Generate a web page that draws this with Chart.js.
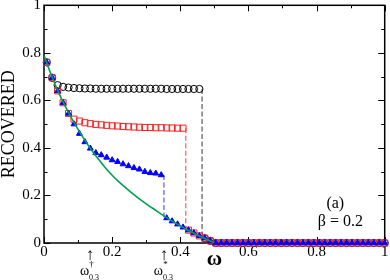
<!DOCTYPE html>
<html><head><meta charset="utf-8">
<script src="https://cdn.jsdelivr.net/npm/chart.js@4.4.1/dist/chart.umd.min.js"></script>
<style>html,body{margin:0;padding:0;background:#fff}#wrap{width:390px;height:280px}</style>
</head><body><div id="wrap"><canvas id="c" width="390" height="280"></canvas></div>
<script>
// ---- data ----
const omega = [0.008, 0.024, 0.040, 0.056, 0.072, 0.088, 0.104, 0.120, 0.136, 0.152,
  0.168, 0.184, 0.200, 0.216, 0.232, 0.248, 0.264, 0.280, 0.296, 0.312,
  0.328, 0.344, 0.360, 0.376, 0.392, 0.408, 0.424, 0.440, 0.456, 0.472,
  0.488, 0.504, 0.520, 0.536, 0.552, 0.568, 0.584, 0.600, 0.616, 0.632,
  0.648, 0.664, 0.680, 0.696, 0.712, 0.728, 0.744, 0.760, 0.776, 0.792,
  0.808, 0.824, 0.840, 0.856, 0.872, 0.888, 0.904, 0.920, 0.936, 0.952,
  0.968, 0.984, 1.000];
const circleVals = [0.760, 0.695, 0.664, 0.657, 0.654, 0.652, 0.651, 0.650, 0.650, 0.649,
  0.649, 0.649, 0.649, 0.649, 0.649, 0.649, 0.649, 0.649, 0.649, 0.649,
  0.649, 0.649, 0.648, 0.648, 0.648, 0.648, 0.648, 0.648, 0.648, 0.020,
  0.009, 0, 0, 0, 0, 0, 0, 0, 0, 0,
  0, 0, 0, 0, 0, 0, 0, 0, 0, 0,
  0, 0, 0, 0, 0, 0, 0, 0, 0, 0,
  0, 0, 0];
const squareVals = [0.760, 0.695, 0.640, 0.590, 0.545, 0.521, 0.513, 0.506, 0.502, 0.499,
  0.497, 0.495, 0.493, 0.492, 0.490, 0.489, 0.488, 0.487, 0.486, 0.486,
  0.485, 0.485, 0.484, 0.484, 0.483, 0.483, 0.054, 0.042, 0.030, 0.020,
  0.009, 0, 0, 0, 0, 0, 0, 0, 0, 0,
  0, 0, 0, 0, 0, 0, 0, 0, 0, 0,
  0, 0, 0, 0, 0, 0, 0, 0, 0, 0,
  0, 0, 0];
const triangleVals = [0.760, 0.695, 0.640, 0.590, 0.545, 0.500, 0.460, 0.425, 0.398, 0.379,
  0.370, 0.360, 0.349, 0.342, 0.332, 0.324, 0.316, 0.310, 0.300, 0.295,
  0.293, 0.286, 0.105, 0.092, 0.079, 0.066, 0.054, 0.042, 0.030, 0.020,
  0.009, 0, 0, 0, 0, 0, 0, 0, 0, 0,
  0, 0, 0, 0, 0, 0, 0, 0, 0, 0,
  0, 0, 0, 0, 0, 0, 0, 0, 0, 0,
  0, 0, 0];
const curveOmega = [0, 0.02, 0.04, 0.06, 0.08, 0.10, 0.12, 0.14, 0.16, 0.18, 0.20, 0.22, 0.24,
  0.26, 0.28, 0.30, 0.32, 0.34, 0.36, 0.38, 0.40, 0.42, 0.44, 0.46, 0.48, 0.50];
const curveVals = [0.790, 0.712, 0.642, 0.582, 0.527, 0.478, 0.432, 0.390, 0.352, 0.317, 0.285, 0.257, 0.232,
  0.208, 0.186, 0.165, 0.145, 0.126, 0.107, 0.089, 0.072, 0.056, 0.041, 0.027, 0.013, 0.002];
const jumpOmega = [0.464, 0.416, 0.352];
const jumpTop = [0.648, 0.483, 0.286];
const jumpBottom = [0.030, 0.060, 0.108];
const xTickVals = [0, 0.2, 0.4, 0.6, 0.8, 1];
const xMinorVals = [0.1, 0.3, 0.5, 0.7, 0.9];
const yTickVals = [0, 0.2, 0.4, 0.6, 0.8, 1];
const yMinorVals = [0.1, 0.3, 0.5, 0.7, 0.9];
const arrowOmega = [0.135, 0.352];
const arrowMarks = ['\u2020', '*'];

// ---- chart ----
const pts = (xs, ys) => xs.map((v, i) => ({x: v, y: ys[i]}));
const jumpColors = ['#7a7a7a', '#ff7a7a', '#7a7aff'];
const SERIF = "'Liberation Serif', 'Times New Roman', serif";
const fmt = v => String(Math.round(v * 10) / 10);

const datasets = [
  {data: pts(curveOmega, curveVals), showLine: true, borderColor: 'rgb(0,160,80)', borderWidth: 1.6,
   pointRadius: 0, cubicInterpolationMode: 'monotone', order: 0},
  {data: pts(omega, triangleVals), showLine: false, pointStyle: 'triangle', pointRadius: 3.4,
   backgroundColor: '#0000ff', borderColor: '#0000ff', borderWidth: 1, clip: false, order: 1},
  {data: pts(omega, squareVals), showLine: false, pointStyle: 'rect', pointRadius: 4.3,
   backgroundColor: 'rgba(0,0,0,0)', borderColor: '#ff2020', borderWidth: 1, clip: false, order: 2},
  {data: pts(omega, circleVals), showLine: false, pointStyle: 'circle', pointRadius: 3.6,
   backgroundColor: 'rgba(0,0,0,0)', borderColor: '#000', borderWidth: 1, clip: false, order: 3}
];
jumpOmega.forEach((w, i) => datasets.push({
  data: [{x: w, y: jumpTop[i]}, {x: w, y: jumpBottom[i]}], showLine: true, pointRadius: 0,
  borderColor: jumpColors[i], borderWidth: 1.5, borderDash: [5, 2.5], order: 4
}));

const fixPad = s => { s.paddingTop = 0; s.paddingBottom = 0; s.paddingLeft = 0; s.paddingRight = 0; };

const frameTicks = {
  id: 'frameTicks',
  beforeDatasetsDraw(chart) {
    const {ctx, chartArea: a, scales: {x, y}} = chart;
    ctx.save();
    ctx.strokeStyle = '#000';
    ctx.lineWidth = 1;
    ctx.beginPath();
    const vx = (v, len) => {
      const px = Math.round(x.getPixelForValue(v)) + 0.5;
      ctx.moveTo(px, a.bottom); ctx.lineTo(px, a.bottom - len);
      ctx.moveTo(px, a.top); ctx.lineTo(px, a.top + len);
    };
    const vy = (v, len) => {
      const py = Math.round(y.getPixelForValue(v)) + 0.5;
      ctx.moveTo(a.left, py); ctx.lineTo(a.left + len, py);
      ctx.moveTo(a.right, py); ctx.lineTo(a.right - len, py);
    };
    xTickVals.forEach(v => vx(v, 6));
    xMinorVals.forEach(v => vx(v, 3));
    yTickVals.forEach(v => vy(v, 6.5));
    yMinorVals.forEach(v => vy(v, 3.5));
    ctx.stroke();
    ctx.lineWidth = 1.5;
    ctx.strokeRect(a.left, a.top, a.right - a.left, a.bottom - a.top);
    ctx.restore();
  },
  afterDraw(chart) {
    const {ctx, scales: {x, y}} = chart;
    ctx.save();
    ctx.fillStyle = '#000';
    ctx.textAlign = 'center';
    ctx.textBaseline = 'middle';
    ctx.font = '16px ' + SERIF;
    ctx.fillText('(a)', x.getPixelForValue(0.855), y.getPixelForValue(0.166));
    ctx.fillText('\u03b2 = 0.2', x.getPixelForValue(0.87), y.getPixelForValue(0.09));
    arrowOmega.forEach((w, i) => {
      const px = x.getPixelForValue(w);
      ctx.font = '17px ' + SERIF;
      ctx.fillText('\u2191', px, 256);
      ctx.font = '14px ' + SERIF;
      ctx.fillText('\u03c9', px - 5.5, 271.5);
      ctx.font = '9px ' + SERIF;
      ctx.fillText(arrowMarks[i], px + 1.5, 265);
      ctx.font = '8px ' + SERIF;
      ctx.fillText('0.3', px + 4, 277.5);
    });
    ctx.restore();
  }
};

new Chart(document.getElementById('c'), {
  type: 'scatter',
  data: {datasets},
  options: {
    responsive: false,
    devicePixelRatio: 1,
    animation: false,
    layout: {padding: {top: 5, right: 4, left: 0, bottom: 0}},
    plugins: {legend: {display: false}, tooltip: {enabled: false}},
    scales: {
      x: {
        type: 'linear', min: 0, max: 1,
        grid: {display: false, drawTicks: false}, border: {display: false},
        ticks: {stepSize: 0.2, padding: 0, color: '#000', maxRotation: 0, callback: fmt,
                font: {family: SERIF, size: 15}},
        title: {display: true, text: '\u03c9', color: '#000', padding: {top: 0, bottom: 10},
                font: {family: SERIF, size: 21, weight: 'bold', lineHeight: 1}},
        afterFit: s => { s.height = 37; fixPad(s); }
      },
      y: {
        type: 'linear', min: 0, max: 1,
        grid: {display: false, drawTicks: false}, border: {display: false},
        ticks: {stepSize: 0.2, padding: 3, color: '#000', callback: fmt,
                font: {family: SERIF, size: 15}},
        title: {display: true, text: 'RECOVERED', color: '#000', padding: {top: 0, bottom: 0},
                font: {family: SERIF, size: 18, lineHeight: 1}},
        afterFit: s => { s.width = 44; fixPad(s); }
      }
    }
  },
  plugins: [frameTicks]
});
</script></body></html>
